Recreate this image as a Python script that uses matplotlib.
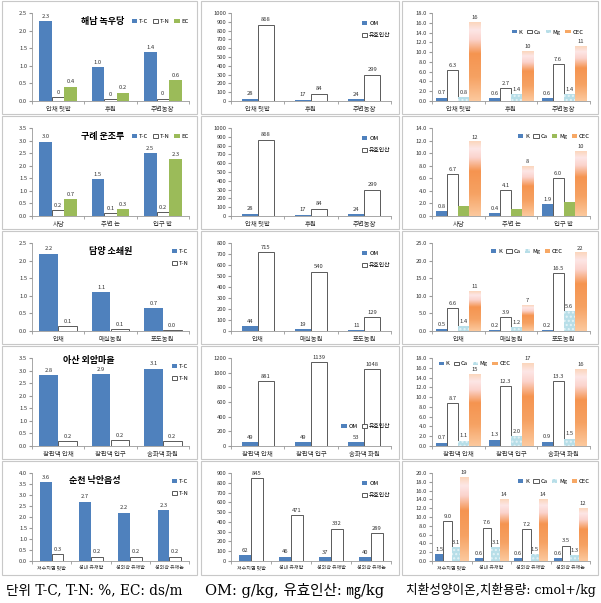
import matplotlib
matplotlib.use("Agg")
import matplotlib.pyplot as plt
import numpy as np
from matplotlib.colors import LinearSegmentedColormap
from matplotlib.patches import Rectangle, Patch

plt.rcParams['font.family'] = ['Noto Sans CJK KR', 'DejaVu Sans']

W, H = 601, 603

# ---------------- data ----------------
cats_haenam = ['안채 텃밭', '후원', '주변농장']
haenam_tc = [2.27, 0.97, 1.40]
haenam_tn = [0.10, 0.05, 0.07]
haenam_ec = [0.41, 0.24, 0.60]
haenam_om = [28, 17, 24]
haenam_p = [868, 84, 299]
haenam_k = [0.7, 0.6, 0.6]
haenam_ca = [6.3, 2.7, 7.6]
haenam_mg = [0.8, 1.4, 1.4]
haenam_cec = [16.1, 10.2, 11.2]

cats_gurye = ['사당', '주변 논', '입구 밭']
gurye_tc = [2.96, 1.48, 2.50]
gurye_tn = [0.24, 0.10, 0.17]
gurye_ec = [0.68, 0.27, 2.27]
gurye_om = [28, 17, 24]
gurye_p = [868, 84, 299]
gurye_k = [0.8, 0.4, 1.9]
gurye_ca = [6.7, 4.1, 6.0]
gurye_mg = [1.6, 1.1, 2.3]
gurye_cec = [11.8, 7.9, 10.3]

cats_damyang = ['안채', '매실농원', '포도농원']
damyang_tc = [2.2, 1.11, 0.66]
damyang_tn = [0.14, 0.06, 0.03]
damyang_om = [44, 19, 11]
damyang_p = [715, 540, 129]
damyang_k = [0.5, 0.2, 0.2]
damyang_ca = [6.6, 3.9, 16.5]
damyang_mg = [1.4, 1.2, 5.6]
damyang_cec = [11.2, 7.3, 22.2]

cats_asan = ['참판댁 안채', '참판댁 입구', '송화댁 화원']
asan_tc = [2.83, 2.86, 3.08]
asan_tn = [0.20, 0.24, 0.20]
asan_om = [49, 49, 53]
asan_p = [881, 1139, 1048]
asan_k = [0.7, 1.3, 0.9]
asan_ca = [8.7, 12.3, 13.3]
asan_mg = [1.1, 2.0, 1.5]
asan_cec = [14.6, 16.9, 15.7]

cats_suncheon = ['저수지옆 텃밭', '성내 유채밭', '성외곽 유채밭', '성외곽 유채논']
suncheon_tc = [3.6, 2.7, 2.2, 2.3]
suncheon_tn = [0.3, 0.2, 0.2, 0.2]
suncheon_om = [62, 46, 37, 40]
suncheon_p = [845, 471, 332, 289]
suncheon_k = [1.5, 0.6, 0.6, 0.6]
suncheon_ca = [9.0, 7.6, 7.2, 3.5]
suncheon_mg = [3.1, 3.1, 1.5, 1.3]
suncheon_cec = [19.0, 14.0, 14.0, 12.0]

units = ['단위 T-C, T-N: %, EC: ds/m', 'OM: g/kg, 유효인산: ㎎/kg', '치환성양이온,치환용량: cmol+/kg']

# ---------------- styles ----------------
BLUE = '#4f81bd'
GREEN = '#9bbb59'
CYAN = '#b7dee8'
EDGE = '#595959'
cec_cmap = LinearSegmentedColormap.from_list(
    'cec', [(0, '#fcc99e'), (0.3, '#f6a263'), (0.6, '#f59450'),
            (0.78, '#fbd3cc'), (0.9, '#fde6e6'), (1.0, '#fbd6bc')])

WHITE = dict(facecolor='white', edgecolor=EDGE, linewidth=0.7)
STY = {
    'T-C': dict(facecolor=BLUE),
    'K': dict(facecolor=BLUE),
    'OM': dict(facecolor=BLUE),
    'T-N': WHITE,
    'Ca': WHITE,
    '유효인산': WHITE,
    'EC': dict(facecolor=GREEN),
    'Mg': dict(facecolor=CYAN, edgecolor='#e4f3f7', hatch='....', linewidth=0),
    'Mg2': dict(facecolor=GREEN),
}

fig = plt.figure(figsize=(W / 100, H / 100), dpi=100)

cols = [(2, 197), (201, 399), (402, 598)]
rows = [(1, 114), (116, 229), (231, 344), (346, 459), (461, 575)]


def panel(ci, ri, cats, series, ymax, ystep, yfmt, group, title=None, tpos=None,
          leg=None, catsize=4.6):
    x0, x1 = cols[ci]
    y0, y1 = rows[ri]
    fig.add_artist(Rectangle((x0 / W, 1 - y1 / H), (x1 - x0) / W, (y1 - y0) / H,
                             transform=fig.transFigure, fill=False,
                             ec='#c8c8c8', lw=0.8))
    ax = fig.add_axes([(x0 + 30) / W, 1 - (y0 + 100) / H, (x1 - x0 - 38) / W, 88 / H])
    n = len(series)
    w = group / n
    xs = np.arange(len(cats))
    handles = []
    for i, (name, vals, fmt) in enumerate(series):
        pos = xs - group / 2 + w * (i + 0.5)
        if name == 'CEC':
            for p, v in zip(pos, vals):
                ax.imshow(np.linspace(0, 1, 256).reshape(-1, 1),
                          extent=[p - w / 2, p + w / 2, 0, v], origin='lower',
                          aspect='auto', cmap=cec_cmap, zorder=2)
            handles.append(Patch(facecolor='#f7a865', label='CEC'))
        else:
            lab = 'Mg' if name == 'Mg2' else name
            ax.bar(pos, vals, w, zorder=2, **STY[name])
            handles.append(Patch(label=lab, **STY[name]))
        if fmt:
            for p, v in zip(pos, vals):
                ax.text(p, v + ymax * 0.025, fmt.format(v), ha='center',
                        va='bottom', fontsize=4.2, color='#333333')
    ax.set_xlim(-0.5, len(cats) - 0.5)
    ax.set_ylim(0, ymax)
    ticks = np.arange(0, ymax + ystep / 2, ystep)
    ax.set_yticks(ticks)
    ax.set_yticklabels([yfmt.format(t) for t in ticks], fontsize=4.2, color='#333333')
    ax.set_xticks(xs)
    ax.set_xticklabels(cats, fontsize=catsize, color='#333333')
    ax.set_xticks(np.arange(-0.5, len(cats)), minor=True)
    ax.tick_params(axis='x', which='major', length=0, pad=3)
    ax.tick_params(axis='x', which='minor', length=2, color='#999999')
    ax.tick_params(axis='y', length=2, pad=1.5, color='#999999')
    for s in ['top', 'right']:
        ax.spines[s].set_visible(False)
    for s in ['left', 'bottom']:
        ax.spines[s].set_color('#999999')
        ax.spines[s].set_linewidth(0.6)
    if title:
        ax.text(tpos[0], tpos[1], title, transform=ax.transAxes, ha='center',
                va='center', fontsize=6.5, fontweight='bold')
    if leg:
        loc, anchor, ncol, spacing = leg
        ax.legend(handles=handles, loc=loc, bbox_to_anchor=anchor, ncol=ncol,
                  fontsize=4.2, frameon=False, handlelength=0.9, handleheight=0.6,
                  handletextpad=0.3, columnspacing=0.8, labelspacing=spacing,
                  borderaxespad=0.2)
    return ax


one = '{:.1f}'
# row 1
panel(0, 0, cats_haenam, [('T-C', haenam_tc, one), ('T-N', haenam_tn, '{:.0f}'),
                          ('EC', haenam_ec, one)],
      2.5, 0.5, one, 0.72, '해남 녹우당', (0.45, 0.9),
      ('upper right', (1.02, 0.97), 3, 0.5))
panel(1, 0, cats_haenam, [('OM', haenam_om, '{:.0f}'), ('유효인산', haenam_p, '{:.0f}')],
      1000, 100, '{:.0f}', 0.6, leg=('upper right', (1.02, 0.95), 1, 1.2))
panel(2, 0, cats_haenam, [('K', haenam_k, one), ('Ca', haenam_ca, one),
                          ('Mg', haenam_mg, one), ('CEC', haenam_cec, '{:.0f}')],
      18, 2, one, 0.84, leg=('upper right', (0.98, 0.85), 4, 0.5))
# row 2
panel(0, 1, cats_gurye, [('T-C', gurye_tc, one), ('T-N', gurye_tn, one),
                         ('EC', gurye_ec, one)],
      3.5, 0.5, one, 0.72, '구례 운조루', (0.45, 0.9),
      ('upper right', (1.02, 0.97), 3, 0.5))
panel(1, 1, cats_haenam, [('OM', gurye_om, '{:.0f}'), ('유효인산', gurye_p, '{:.0f}')],
      1000, 100, '{:.0f}', 0.6, leg=('upper right', (1.02, 0.95), 1, 1.2))
panel(2, 1, cats_gurye, [('K', gurye_k, one), ('Ca', gurye_ca, one),
                         ('Mg2', gurye_mg, None), ('CEC', gurye_cec, '{:.0f}')],
      14, 2, one, 0.84, leg=('upper right', (1.02, 0.97), 4, 0.5))
# row 3
panel(0, 2, cats_damyang, [('T-C', damyang_tc, one), ('T-N', damyang_tn, one)],
      2.5, 0.5, one, 0.72, '담양 소쇄원', (0.5, 0.9),
      ('upper right', (1.02, 0.97), 1, 1.2))
panel(1, 2, cats_damyang, [('OM', damyang_om, '{:.0f}'), ('유효인산', damyang_p, '{:.0f}')],
      800, 100, '{:.0f}', 0.6, leg=('upper right', (1.02, 0.95), 1, 1.2))
panel(2, 2, cats_damyang, [('K', damyang_k, one), ('Ca', damyang_ca, one),
                           ('Mg', damyang_mg, one), ('CEC', damyang_cec, '{:.0f}')],
      25, 5, one, 0.84, leg=('upper center', (0.6, 0.97), 4, 0.5))
# row 4
panel(0, 3, cats_asan, [('T-C', asan_tc, one), ('T-N', asan_tn, one)],
      3.5, 0.5, one, 0.72, '아산 외암마을', (0.36, 0.97),
      ('upper right', (1.02, 0.97), 1, 1.2))
panel(1, 3, cats_asan, [('OM', asan_om, '{:.0f}'), ('유효인산', asan_p, '{:.0f}')],
      1200, 200, '{:.0f}', 0.6, leg=('lower right', (1.02, 0.15), 2, 0.5))
panel(2, 3, cats_asan, [('K', asan_k, one), ('Ca', asan_ca, one),
                        ('Mg', asan_mg, one), ('CEC', asan_cec, '{:.0f}')],
      18, 2, one, 0.84, leg=('upper left', (0.02, 1.0), 4, 0.5))
# row 5
panel(0, 4, cats_suncheon, [('T-C', suncheon_tc, one), ('T-N', suncheon_tn, one)],
      4.0, 0.5, one, 0.6, '순천 낙안읍성', (0.4, 0.92),
      ('upper right', (1.02, 0.97), 1, 1.2), catsize=3.6)
panel(1, 4, cats_suncheon, [('OM', suncheon_om, '{:.0f}'), ('유효인산', suncheon_p, '{:.0f}')],
      900, 100, '{:.0f}', 0.6, leg=('upper right', (1.02, 0.95), 1, 1.2), catsize=3.6)
panel(2, 4, cats_suncheon, [('K', suncheon_k, one), ('Ca', suncheon_ca, one),
                            ('Mg', suncheon_mg, one), ('CEC', suncheon_cec, '{:.0f}')],
      20, 2, one, 0.84, leg=('upper right', (1.02, 0.97), 4, 0.5), catsize=3.6)

for (x0, x1), txt, fs in zip(cols, units, [9.8, 10.5, 9.1]):
    fig.text((x0 + 4) / W, 1 - 590 / H, txt, fontsize=fs, va='center', ha='left',
             family=['DejaVu Serif', 'Noto Sans CJK KR'])

fig.savefig('out.png', dpi=100)
